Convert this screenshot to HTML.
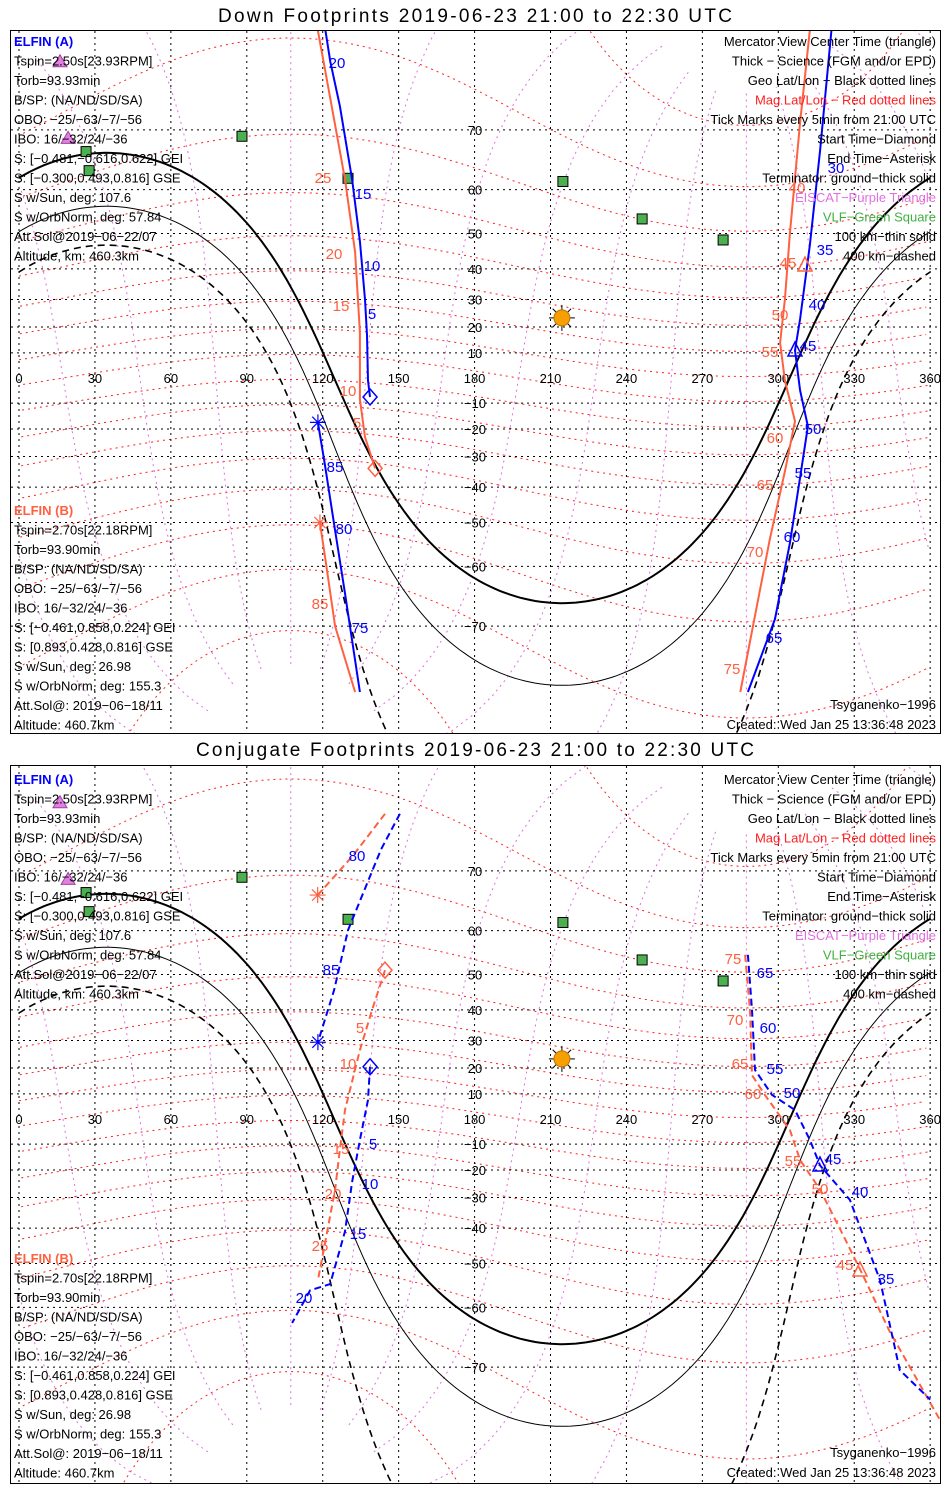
<!DOCTYPE html>
<html><head><meta charset="utf-8"><style>
html,body{margin:0;padding:0;background:#fff;width:950px;height:1500px;overflow:hidden;}
svg{display:block;font-family:"Liberation Sans",sans-serif;}
</style></head><body>
<svg id="chart" width="950" height="1500" viewBox="0 0 950 1500" xmlns="http://www.w3.org/2000/svg"></svg>
<script>
// ---------- data (lon, lat in degrees) ----------
const panelTitles = ["Down Footprints 2019-06-23 21:00 to 22:30 UTC","Conjugate Footprints 2019-06-23 21:00 to 22:30 UTC"];
const lonTicks = [0,30,60,90,120,150,180,210,240,270,300,330,360];
const latTicks = [70,60,50,40,30,20,10,-10,-20,-30,-40,-50,-60,-70];
const subsolarLon = 214.5, subsolarLat = 23.4;
const stationVLFLon = [88.1,26.5,27.7,130,214.9,246.2,278.2];
const stationVLFLat = [69.1,66.8,63.6,62.2,61.6,53.6,48.3];
const stationEiscatLon = [16.2,19.4];
const stationEiscatLat = [77.5,68.8];
// Down footprints
const downA1Lon=[138.7,137.9,137.5,136.7,134.7,131.6,126.8,123,121];
const downA1Lat=[-7.6,-1,17,30,48,62,73,77.5,80];
const downA2Lon=[321,316.5,312.5,308.6,306.6,308.6,311.7,308.6,304.6,298.7,288];
const downA2Lat=[80,67,47,23,11,-5,-19,-37,-55,-69,-77.3];
const downA3Lon=[134.7,128.8,124.9,120.9,118.1];
const downA3Lat=[-77.3,-65,-52,-33,-17.5];
const downB1Lon=[140.7,136.7,134.7,134.7,132.8,128.8,122.9,118];
const downB1Lat=[-34,-23,-8.5,18,45,62,74,80];
const downB2Lon=[312.5,308.6,304.6,302.6,300.7,302.6,306.6,302.6,296.7,288.8,285];
const downB2Lat=[80,71,50,30,14,-1,-17,-35,-54,-72,-77.3];
const downB3Lon=[132.8,124.9,120.9,118.9];
const downB3Lat=[-77.3,-70,-58,-50];
// Conjugate footprints
const conjA1Lon=[138.7,137.9,134.7,131.6,128.8,122.9,115,107.9];
const conjA1Lat=[20.5,7.6,-8.4,-24.5,-41,-55,-56.4,-63];
const conjA2Lon=[288,289.6,290.8,297.5,306.6,312.5,316.5,328.3,340.2,348,360];
const conjA2Lat=[54.8,40,19.3,9.6,3.6,-8.4,-18.3,-30.8,-54.1,-70.4,-74];
const conjA3Lon=[150.5,143,130,124.5,118.1];
const conjA3Lat=[76.5,72.7,60.1,45.8,29.4];
const conjB1Lon=[144.6,139.5,134.7,128.8,126.8,124.9,120.9,118.1];
const conjB1Lat=[51.1,40,26.6,3.6,-12,-27.2,-44.5,-54.1];
const conjB2Lon=[286.9,288.8,289.6,294.7,304.6,308.6,316.5,326.4,332.3,344,363.9];
const conjB2Lat=[54.8,40,17.3,9.6,-4.4,-16.2,-27.2,-43.3,-51.5,-64.5,-76.1];
const conjB3Lon=[144.6,132,118];
const conjB3Lat=[76.5,72,66.4];

// ---------- helpers ----------
const NS="http://www.w3.org/2000/svg";
const svg=document.getElementById('chart');
const D=Math.PI/180;
function X(lon){return 19+lon*2.531;}
function Y(lat,y0){return y0-143*Math.log(Math.tan(Math.PI/4+lat*D/2));}
function mk(tag,attrs,parent){const e=document.createElementNS(NS,tag);for(const k in attrs)e.setAttribute(k,attrs[k]);(parent||svg).appendChild(e);return e;}
function txt(x,y,s,size,fill,anchor,parent,weight){const t=mk('text',{x:x,y:y,'font-size':size,fill:fill,'text-anchor':anchor||'start'},parent);if(weight)t.setAttribute('font-weight',weight);t.textContent=s;return t;}

function magToGeo(mlat,mlon){
  const pl=80.6,pn=287.4,b=(90-pl)*D;
  let x=Math.cos(mlat*D)*Math.cos(mlon*D),y=Math.cos(mlat*D)*Math.sin(mlon*D),z=Math.sin(mlat*D);
  const x1=x*Math.cos(b)+z*Math.sin(b),z1=-x*Math.sin(b)+z*Math.cos(b);
  const lat=Math.asin(Math.max(-1,Math.min(1,z1)))/D;
  let lon=Math.atan2(y,x1)/D+pn; lon=((lon%360)+360)%360;
  return [lon,lat];
}
function termLat(lon,c){
  const dec=subsolarLat*D,H=(lon-subsolarLon)*D;
  const f=l=>Math.sin(dec)*Math.sin(l*D)+Math.cos(dec)*Math.cos(l*D)*Math.cos(H)-c;
  let a=-89,b=89;
  if(f(a)>0)return -89; if(f(b)<0)return 89;
  for(let i=0;i<40;i++){const m=(a+b)/2;if(f(m)<0)a=m;else b=m;}
  return (a+b)/2;
}

// p: panel index, top: map offset, bTop: box top, bH: box height, tY: title baseline
function drawPanel(p,top,bTop,bH,tY){
  const y0=378+top;
  const g=mk('g',{});
  
  
  const tt=txt(475,tY,panelTitles[p],19,'#000','middle',g);
  tt.setAttribute('textLength',514+(p?44:0));
  
  
  const box=mk('rect',{x:10.5,y:bTop+0.5,width:930,height:bH,fill:'none',stroke:'#000','stroke-width':1},g);
  
  
  const cid='clip'+p;
  const cp=mk('clipPath',{id:cid},g);
  mk('rect',{x:11,y:bTop+1,width:929,height:bH-1},cp);
  const m=mk('g',{'clip-path':'url(#'+cid+')'},g);
  
  
  for(let ml=-80;ml<=80;ml+=10){
    let d='',prev=null;
    for(let mu=0;mu<=360;mu+=2){
      const [lo,la]=magToGeo(ml,mu);
      if(prev!==null&&Math.abs(lo-prev)>180)d+='M';else d+=(d?'L':'M');
      d+=X(lo).toFixed(1)+','+Y(la,y0).toFixed(1);prev=lo;
    }
    const e=mk('path',{d:d,fill:'none',stroke:'#ff2020','stroke-width':1,'stroke-dasharray':'2,4'},m);
    
    
  }
  for(let mu=0;mu<360;mu+=30){
    let d='',prev=null;
    for(let ml=-84;ml<=84;ml+=2){
      const [lo,la]=magToGeo(ml,mu);
      if(prev!==null&&Math.abs(lo-prev)>180)d+='M';else d+=(d?'L':'M');
      d+=X(lo).toFixed(1)+','+Y(la,y0).toFixed(1);prev=lo;
    }
    const e=mk('path',{d:d,fill:'none',stroke:'#e070e0','stroke-width':1,'stroke-dasharray':'2,4'},m);
    
    
  }
  latTicks.forEach(la=>{
    const e=mk('line',{x1:11,x2:940,y1:Y(la,y0),y2:Y(la,y0),stroke:'#000','stroke-width':1,'stroke-dasharray':'2,4'},m);
    
    
    const t=txt(475,Y(la,y0)+5,String(la).replace('-','\u2212'),13,'#000','middle',m);
    
    
  });
  lonTicks.forEach(lo=>{
    const e=mk('line',{x1:X(lo),x2:X(lo),y1:bTop+1,y2:bTop+bH,stroke:'#000','stroke-width':1,'stroke-dasharray':'2,4'},m);
    
    
    const t=txt(X(lo),y0+5,String(lo),13,'#000','middle',m);
    
    
  });
  [[0,2,'none'],[-Math.sin(10.1*D),1,'none'],[-Math.sin(19.7*D),1.6,'7,5']].forEach((tc,i)=>{
    let d='';
    for(let lo=0;lo<=360;lo+=2){d+=(lo?'L':'M')+X(lo).toFixed(1)+','+Y(termLat(lo,tc[0]),y0).toFixed(1);}
    const e=mk('path',{d:d,fill:'none',stroke:'#000','stroke-width':tc[1],'stroke-dasharray':tc[2]},m);
    
    
  });
  stationVLFLon.forEach((lo,i)=>{
    const e=mk('rect',{x:X(lo)-5,y:Y(stationVLFLat[i],y0)-5,width:10,height:10,fill:'#4caf50',stroke:'#000','stroke-width':1},m);
    
    
  });
  stationEiscatLon.forEach((lo,i)=>{
    const cx=X(lo),cy=Y(stationEiscatLat[i],y0);
    const e=mk('polygon',{points:`${cx},${cy-7} ${cx-7},${cy+5} ${cx+7},${cy+5}`,fill:'#e080e0',stroke:'#a040a0','stroke-width':1},m);
    
    
  });
  const sx=X(subsolarLon),sy=Y(subsolarLat,y0);
  const sg=mk('g',{},m);
  
  
  for(let a=0;a<360;a+=45){mk('line',{x1:sx,y1:sy,x2:sx+13*Math.cos(a*D),y2:sy+13*Math.sin(a*D),stroke:'#000','stroke-width':1},sg);}
  mk('circle',{cx:sx,cy:sy,r:8,fill:'#f5a000',stroke:'#c07000','stroke-width':1},sg);
  return m;
}
function track(m,lons,lats,y0,color,dashed,name){
  const d=lons.map((lo,i)=>(i?'L':'M')+X(lo).toFixed(1)+','+Y(lats[i],y0).toFixed(1)).join('');
  const e=mk('path',{d:d,fill:'none',stroke:color,'stroke-width':2,'stroke-dasharray':dashed?'7,4':'none'},m);
  
  
}
function diamond(m,lo,la,y0,color){
  const cx=X(lo),cy=Y(la,y0);
  const e=mk('polygon',{points:`${cx},${cy-8} ${cx+7},${cy} ${cx},${cy+8} ${cx-7},${cy}`,fill:'none',stroke:color,'stroke-width':1.5},m);
  
  
}
function asterisk(m,lo,la,y0,color){
  const cx=X(lo),cy=Y(la,y0);const g=mk('g',{},m);
  
  
  for(let a=0;a<180;a+=45){mk('line',{x1:cx-8*Math.cos(a*D),y1:cy-8*Math.sin(a*D),x2:cx+8*Math.cos(a*D),y2:cy+8*Math.sin(a*D),stroke:color,'stroke-width':1.2},g);}
}
function tri(m,x,y,color){
  const e=mk('polygon',{points:`${x},${y-8} ${x-7},${y+6} ${x+7},${y+6}`,fill:'none',stroke:color,'stroke-width':1.5},m);
  
  
}
function labels(m,arr,color){
  arr.forEach(a=>{const t=txt(a[0],a[1]+6,a[2],15,color,'middle',m);
    
    });
}
function infoBlocks(topA,topB){
  const g=mk('g',{});
  
  
  const A=['Tspin=2.50s[23.93RPM]','Torb=93.93min','B/SP: (NA/ND/SD/SA)','OBO: \u221225/\u221263/\u22127/\u221256','IBO: 16/\u221232/24/\u221236','S: [\u22120.481,\u22120.616,0.622] GEI','S: [\u22120.300,0.493,0.816] GSE','S w/Sun, deg: 107.6','S w/OrbNorm, deg: 57.84','Att.Sol@2019\u221206\u221222/07','Altitude, km: 460.3km'];
  const B=['Tspin=2.70s[22.18RPM]','Torb=93.90min','B/SP: (NA/ND/SD/SA)','OBO: \u221225/\u221263/\u22127/\u221256','IBO: 16/\u221232/24/\u221236','S: [\u22120.461,0.858,0.224] GEI','S: [0.893,0.428,0.816] GSE','S w/Sun, deg: 26.98','S w/OrbNorm, deg: 155.3','Att.Sol@: 2019\u221206\u221218/11','Altitude: 460.7km'];
  const R=[['Mercator View Center Time (triangle)','#000'],['Thick \u2212 Science (FGM and/or EPD)','#000'],['Geo Lat/Lon \u2212 Black dotted lines','#000'],['Mag Lat/Lon \u2212 Red dotted lines','#ff2020'],['Tick Marks every 5min from 21:00 UTC','#000'],['Start Time\u2212Diamond','#000'],['End Time\u2212Asterisk','#000'],['Terminator: ground\u2212thick solid','#000'],['EISCAT\u2212Purple Triangle','#e070e0'],['VLF\u2212Green Square','#40b040'],['100 km\u2212thin solid','#000'],['400 km\u2212dashed','#000']];
  txt(14,46+topA,'ELFIN (A)',13,'#0000ff','start',g,'bold');
  A.forEach((s,i)=>txt(14,65.5+topA+i*19.5,s,13,'#000','start',g));
  txt(14,515+topB,'ELFIN (B)',13,'#ff6040','start',g,'bold');
  B.forEach((s,i)=>txt(14,534.5+topB+i*19.5,s,13,'#000','start',g));
  R.forEach((s,i)=>txt(936,46+topA+i*19.5,s[0],13,s[1],'end',g));
  txt(936,709+topB,'Tsyganenko\u22121996',13,'#000','end',g);
  txt(936,729+topB,'Created: Wed Jan 25 13:36:48 2023',13,'#000','end',g);
}

const BL='#0000ff', RD='#ff6040';
let m=drawPanel(0,0,30,703,22);
track(m,downB1Lon,downB1Lat,378,RD,false,'elfin-b-track');
track(m,downB2Lon,downB2Lat,378,RD,false,'elfin-b-track');
track(m,downB3Lon,downB3Lat,378,RD,false,'elfin-b-track');
track(m,downA1Lon,downA1Lat,378,BL,false,'elfin-a-track');
track(m,downA2Lon,downA2Lat,378,BL,false,'elfin-a-track');
track(m,downA3Lon,downA3Lat,378,BL,false,'elfin-a-track');
diamond(m,downA1Lon[0],downA1Lat[0],378,BL);
diamond(m,downB1Lon[0],downB1Lat[0],378,RD);
asterisk(m,downA3Lon[4],downA3Lat[4],378,BL);
asterisk(m,downB3Lon[3],downB3Lat[3],378,RD);
tri(m,795,350,BL);tri(m,805,265,RD);
labels(m,[[337,62,'20'],[363,193,'15'],[372,265,'10'],[372,313,'5'],[836,167,'30'],[825,249,'35'],[817,304,'40'],[808,345,'45'],[813,428,'50'],[803,472,'55'],[792,536,'60'],[774,637,'65'],[335,466,'85'],[344,528,'80'],[360,627,'75']],BL);
labels(m,[[323,177,'25'],[334,253,'20'],[341,305,'15'],[348,390,'10'],[357,422,'5'],[797,187,'40'],[788,262,'45'],[780,314,'50'],[770,351,'55'],[775,437,'60'],[765,484,'65'],[755,551,'70'],[732,668,'75'],[320,603,'85']],RD);
infoBlocks(0,0);
const T2=741, Y2=378+T2;
m=drawPanel(1,T2,765,718,756);
track(m,conjB1Lon,conjB1Lat,Y2,RD,true,'elfin-b-track');
track(m,conjB2Lon,conjB2Lat,Y2,RD,true,'elfin-b-track');
track(m,conjB3Lon,conjB3Lat,Y2,RD,true,'elfin-b-track');
track(m,conjA1Lon,conjA1Lat,Y2,BL,true,'elfin-a-track');
track(m,conjA2Lon,conjA2Lat,Y2,BL,true,'elfin-a-track');
track(m,conjA3Lon,conjA3Lat,Y2,BL,true,'elfin-a-track');
diamond(m,conjA1Lon[0],conjA1Lat[0],Y2,BL);
diamond(m,conjB1Lon[0],conjB1Lat[0],Y2,RD);
asterisk(m,conjA3Lon[4],conjA3Lat[4],Y2,BL);
asterisk(m,conjB3Lon[2],conjB3Lat[2],Y2,RD);
tri(m,820,1165,BL);tri(m,860,1270,RD);
labels(m,[[357,855,'80'],[331,969,'85'],[373,1143,'5'],[370,1183,'10'],[358,1233,'15'],[304,1297,'20'],[765,972,'65'],[768,1027,'60'],[775,1068,'55'],[792,1092,'50'],[833,1158,'45'],[860,1191,'40'],[886,1278,'35']],BL);
labels(m,[[360,1027,'5'],[348,1063,'10'],[341,1148,'15'],[333,1193,'20'],[320,1245,'25'],[733,958,'75'],[735,1019,'70'],[740,1063,'65'],[753,1093,'60'],[793,1160,'55'],[820,1188,'50'],[845,1264,'45']],RD);
infoBlocks(738,748);
</script>
</body></html>
